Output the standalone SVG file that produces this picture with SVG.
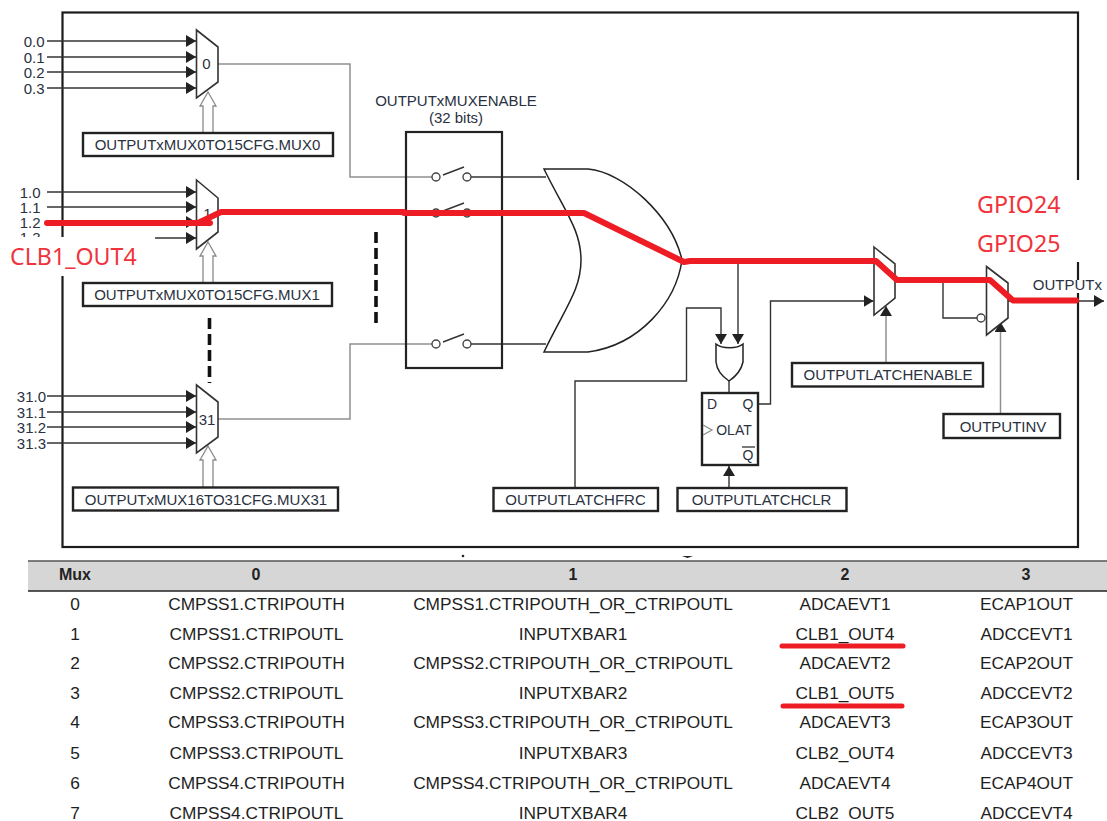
<svg xmlns="http://www.w3.org/2000/svg" width="1107" height="821" viewBox="0 0 1107 821">
<style>
text{font-family:"Liberation Sans",Arial,sans-serif;fill:#2a3140}
.l{font-size:15px;text-anchor:end}
.b{font-size:15px;text-anchor:middle}
.box{fill:#fff;stroke:#222;stroke-width:2.4}
.sh{fill:#fff;stroke:#333;stroke-width:1.6;stroke-linejoin:miter}
.w{fill:none;stroke:#333;stroke-width:1.4}
.g{fill:none;stroke:#909090;stroke-width:1.5}
.red{fill:none;stroke:#ee1c25;stroke-width:6;stroke-linejoin:round;stroke-linecap:round}
.rt{font-family:"Noto Sans",sans-serif;font-size:23.2px;fill:#f0333b}
.t{font-size:17.3px;text-anchor:middle;fill:#1e1e1e}
.h{font-size:16px;font-weight:bold;text-anchor:middle;fill:#222}
.open{fill:#fff;stroke:#8a8a8a;stroke-width:1.3}
.c{fill:#fff;stroke:#444;stroke-width:1.4}
</style>
<defs>
<marker id="a" markerUnits="userSpaceOnUse" markerWidth="11" markerHeight="12" refX="10" refY="6" orient="auto"><path d="M0 0L10 6L0 12Z" fill="#222"/></marker>
<g id="dbl"><path class="open" d="M-5 0V-27L-8 -27L0 -41L8 -27L5 -27V0"/></g>
<clipPath id="cut13"><rect x="0" y="225" width="60" height="12"/></clipPath>
</defs>
<rect width="1107" height="821" fill="#fff"/>
<rect id="frame" x="62.5" y="12.5" width="1015.5" height="534.5" fill="none" stroke="#1c1c1c" stroke-width="2.2"/>

<g id="connectors">
<path class="w" d="M47 41H196" marker-end="url(#a)"/><path class="w" d="M47 57H196" marker-end="url(#a)"/><path class="w" d="M47 72H196" marker-end="url(#a)"/><path class="w" d="M47 88H196" marker-end="url(#a)"/>
<path class="w" d="M47 192H196" marker-end="url(#a)"/><path class="w" d="M47 207H196" marker-end="url(#a)"/><path class="w" d="M47 222H196" marker-end="url(#a)"/><path class="w" d="M155 238H196" marker-end="url(#a)"/>
<path class="w" d="M47 396H196" marker-end="url(#a)"/><path class="w" d="M47 412H196" marker-end="url(#a)"/><path class="w" d="M47 427H196" marker-end="url(#a)"/><path class="w" d="M47 443H196" marker-end="url(#a)"/>
<path class="g" d="M218 64H350V177H432"/>
<path class="g" d="M218 212H432"/>
<path class="g" d="M218 419H350V344H432"/>
<path class="w" d="M471 177H546M471 213H580M471 344H546"/>
<path class="w" d="M682 261H864"/>
<path class="w" d="M738 261V344" marker-end="url(#a)"/>
<path class="w" d="M575 488V381H686.5V308H721V344" marker-end="url(#a)"/>
<path class="w" d="M729 381V393"/>
<path class="w" d="M758 404H770.500V301H873.500" marker-end="url(#a)"/>
<path class="w" d="M729 488V466" marker-end="url(#a)"/>
<path class="g" d="M886 363V306" marker-end="url(#a)"/>
<path class="g" d="M1000.500 414V322" marker-end="url(#a)"/>
<path class="w" d="M895 280H986M943 280V318H977"/>
<path class="w" d="M1008 301H1104" marker-end="url(#a)"/>
<use href="#dbl" x="208" y="133"/>
<use href="#dbl" x="208" y="283"/>
<use href="#dbl" x="208" y="487"/>
</g>

<rect x="0" y="237" width="155" height="39" fill="#fff"/>
<rect x="1070" y="180" width="16" height="82" fill="#fff"/>
<rect x="1030" y="280" width="77" height="13" fill="#fff"/>

<g id="mux0"><path class="sh" d="M196.500 30L218 47V82L196.500 98Z"/><text class="b" x="206.500" y="69">0</text></g>
<g id="mux1"><path class="sh" d="M196.500 180L218 198V232L196.500 249Z"/><text class="b" x="207.500" y="219">1</text></g>
<g id="mux31"><path class="sh" d="M196.500 385L218 402V437L196.500 453Z"/><text class="b" x="207" y="424.500">31</text></g>

<g id="inputs">
<text class="l" x="44.500" y="47">0.0</text><text class="l" x="44.500" y="62.500">0.1</text><text class="l" x="44.500" y="78">0.2</text><text class="l" x="44.500" y="93.500">0.3</text>
<text class="l" x="40.500" y="197.500">1.0</text><text class="l" x="40.500" y="213">1.1</text><text class="l" x="40.500" y="228">1.2</text><text class="l" x="40.500" y="243" clip-path="url(#cut13)">1.3</text>
<text class="l" x="46" y="401.500">31.0</text><text class="l" x="46" y="417.500">31.1</text><text class="l" x="46" y="432.500">31.2</text><text class="l" x="46" y="448.500">31.3</text>
</g>

<g id="cfg0"><rect class="box" x="83" y="133" width="250" height="23"/><text class="b" x="207.500" y="150">OUTPUTxMUX0TO15CFG.MUX0</text></g>
<g id="cfg1"><rect class="box" x="83" y="283" width="249" height="23"/><text class="b" x="207" y="299.500">OUTPUTxMUX0TO15CFG.MUX1</text></g>
<g id="cfg31"><rect class="box" x="73" y="487.500" width="265" height="23"/><text class="b" x="206" y="504.500">OUTPUTxMUX16TO31CFG.MUX31</text></g>

<path id="dash-left" d="M209.500 318V383" stroke="#111" stroke-width="3.600" stroke-dasharray="11 5" fill="none"/>
<path id="dash-mid" d="M376 232V327" stroke="#111" stroke-width="3.600" stroke-dasharray="11 5" fill="none"/>

<g id="enable">
<text class="b" x="456" y="106">OUTPUTxMUXENABLE</text>
<text class="b" x="456" y="122.500">(32 bits)</text>
<rect x="406" y="132" width="96" height="236" fill="none" stroke="#222" stroke-width="2.200"/>
<path class="w" d="M443 175L464 167M443 211L464 203M443 342L464 334"/>
<circle class="c" cx="436" cy="177" r="4"/><circle class="c" cx="467" cy="177" r="4"/>
<circle class="c" cx="436" cy="213" r="4"/><circle class="c" cx="467" cy="213" r="4"/>
<circle class="c" cx="436" cy="344" r="4"/><circle class="c" cx="467" cy="344" r="4"/>
</g>

<g id="or-large"><path d="M544 169H588C624 172 672 216 682 260C676 302 640 345 588 352H544C565 308 581 290 581 260C581 230 565 212 544 169Z" fill="#fff" stroke="#222" stroke-width="1.500"/></g>

<g id="or-small"><path d="M716 344C722 349 737 349 743 344V362C741 371 735 377 729 381C723 377 717 371 716 362Z" fill="#fff" stroke="#222" stroke-width="1.500"/></g>

<g id="olat">
<rect class="box" x="702" y="393" width="56" height="72"/>
<text class="b" x="712" y="409" style="font-size:14px">D</text>
<text class="b" x="748" y="409" style="font-size:14px">Q</text>
<text class="b" x="734" y="435" style="font-size:14px">OLAT</text>
<text class="b" x="748" y="460" style="font-size:14px">Q</text>
<path d="M742 447H755" stroke="#333" stroke-width="1.300"/>
<path d="M703 425L712 430L703 435" fill="none" stroke="#888" stroke-width="1.200"/>
</g>

<g id="frc"><rect class="box" x="493.500" y="488" width="164.500" height="23"/><text class="b" x="575.500" y="504.500">OUTPUTLATCHFRC</text></g>
<g id="clr"><rect class="box" x="677.500" y="488" width="169" height="23"/><text class="b" x="761.500" y="504.500">OUTPUTLATCHCLR</text></g>

<g id="mux-latch"><path class="sh" d="M874 247L895 264V298L874 315Z"/></g>
<g id="mux-inv"><path class="sh" d="M986.500 266.500L1008 283V318L986.500 335Z"/><circle class="c" cx="981" cy="318" r="4"/></g>
<circle cx="943" cy="281" r="2" fill="#222"/>
<circle cx="738" cy="261" r="2" fill="#222"/>

<g id="latchen"><rect class="box" x="792" y="363" width="191" height="23.500"/><text class="b" x="888" y="379.500">OUTPUTLATCHENABLE</text></g>
<g id="inv"><rect class="box" x="943.500" y="414" width="116.500" height="24"/><text class="b" x="1003" y="431.500">OUTPUTINV</text></g>
<text class="l" x="1102" y="290">OUTPUTx</text>

<g id="highlight">
<path class="red" d="M47 223H210"/>
<path class="red" d="M198 223L221 212H404M404 213H584L684 262L690 261H876L897 280H990L1013 300.500H1076"/>
</g>
<text class="rt" x="10" y="265">CLB1_OUT4</text>
<text class="rt" x="977" y="213">GPIO24</text>
<text class="rt" x="977" y="252">GPIO25</text>

<g id="table">
<rect x="28" y="561" width="1079" height="30" fill="#d6d6d6"/>
<path d="M28 561H1107" stroke="#555" stroke-width="1.500"/>
<path d="M28 591H1107" stroke="#222" stroke-width="1.500"/>
<circle cx="463" cy="556" r="1.300" fill="#222"/>
<path d="M682 556H693L687.500 558Z" fill="#222"/>
<text class="h" x="75" y="580">Mux</text><text class="h" x="256" y="580">0</text><text class="h" x="573" y="580">1</text><text class="h" x="845" y="580">2</text><text class="h" x="1026" y="580">3</text>
<g>
<text class="t" x="75" y="610">0</text><text class="t" x="256.500" y="610">CMPSS1.CTRIPOUTH</text><text class="t" x="573" y="610">CMPSS1.CTRIPOUTH_OR_CTRIPOUTL</text><text class="t" x="845" y="610">ADCAEVT1</text><text class="t" x="1026.500" y="610">ECAP1OUT</text>
<text class="t" x="75" y="640">1</text><text class="t" x="256.500" y="640">CMPSS1.CTRIPOUTL</text><text class="t" x="573" y="640">INPUTXBAR1</text><text class="t" x="845" y="640">CLB1_OUT4</text><text class="t" x="1026.500" y="640">ADCCEVT1</text>
<text class="t" x="75" y="669">2</text><text class="t" x="256.500" y="669">CMPSS2.CTRIPOUTH</text><text class="t" x="573" y="669">CMPSS2.CTRIPOUTH_OR_CTRIPOUTL</text><text class="t" x="845" y="669">ADCAEVT2</text><text class="t" x="1026.500" y="669">ECAP2OUT</text>
<text class="t" x="75" y="699">3</text><text class="t" x="256.500" y="699">CMPSS2.CTRIPOUTL</text><text class="t" x="573" y="699">INPUTXBAR2</text><text class="t" x="845" y="699">CLB1_OUT5</text><text class="t" x="1026.500" y="699">ADCCEVT2</text>
<text class="t" x="75" y="728">4</text><text class="t" x="256.500" y="728">CMPSS3.CTRIPOUTH</text><text class="t" x="573" y="728">CMPSS3.CTRIPOUTH_OR_CTRIPOUTL</text><text class="t" x="845" y="728">ADCAEVT3</text><text class="t" x="1026.500" y="728">ECAP3OUT</text>
<text class="t" x="75" y="759">5</text><text class="t" x="256.500" y="759">CMPSS3.CTRIPOUTL</text><text class="t" x="573" y="759">INPUTXBAR3</text><text class="t" x="845" y="759">CLB2_OUT4</text><text class="t" x="1026.500" y="759">ADCCEVT3</text>
<text class="t" x="75" y="789">6</text><text class="t" x="256.500" y="789">CMPSS4.CTRIPOUTH</text><text class="t" x="573" y="789">CMPSS4.CTRIPOUTH_OR_CTRIPOUTL</text><text class="t" x="845" y="789">ADCAEVT4</text><text class="t" x="1026.500" y="789">ECAP4OUT</text>
<text class="t" x="75" y="819">7</text><text class="t" x="256.500" y="819">CMPSS4.CTRIPOUTL</text><text class="t" x="573" y="819">INPUTXBAR4</text><text class="t" x="845" y="819">CLB2_OUT5</text><text class="t" x="1026.500" y="819">ADCCEVT4</text>
</g>
<path d="M782 646H903M783 706H902" fill="none" stroke="#ee1c25" stroke-width="5" stroke-linecap="round"/>
<rect x="0" y="819" width="1107" height="2" fill="#fff"/>
</g>
</svg>
